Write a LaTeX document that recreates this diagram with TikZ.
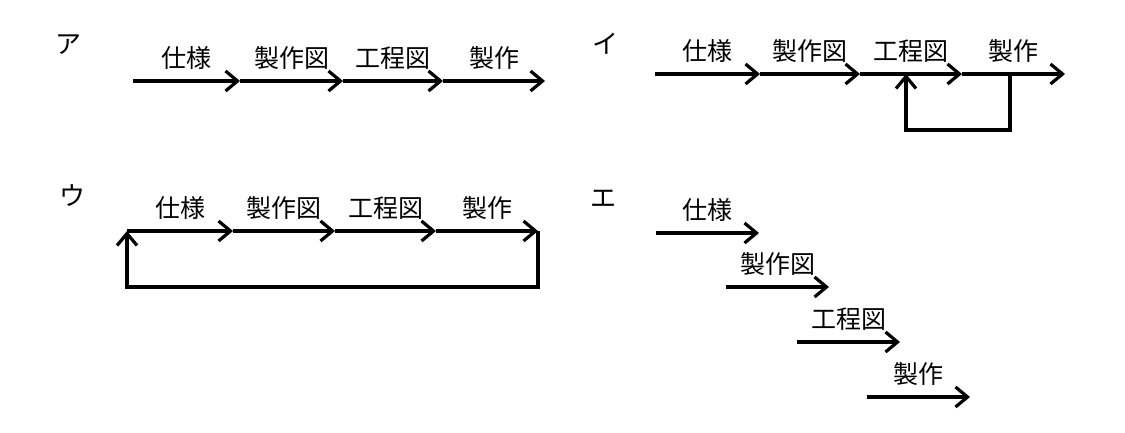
\documentclass[tikz,border=0pt]{standalone}
\usepackage{fontspec}
\setmainfont{Noto Sans CJK JP}
\usetikzlibrary{arrows.meta}

\begin{document}
\begin{tikzpicture}[x=0.5pt, y=-0.5pt,
    flow/.style={line width=1.6pt, -{Straight Barb[length=6pt, width=10pt, line width=1.6pt]}},
    step lbl/.style={font=\fontsize{12.5}{14}\selectfont, above=5pt, midway, inner sep=0pt},
    panel/.style={font=\fontsize{13}{15}\selectfont, inner sep=0pt}]
  \useasboundingbox (0,0) rectangle (1125,433);

  % ア : straight flow
  \node[panel] (pa) at (68,45) {ア};
  \foreach \n/\x in {0/133, 1/240, 2/343, 3/443, 4/545}
    \coordinate (a\n) at (\x,81);
  \foreach \n/\p/\t in {1/0/仕様, 2/1/製作図, 3/2/工程図, 4/3/製作}
    \draw[flow] (a\p) -- node[step lbl] (la\n) {\t} (a\n);

  % イ : loop back to 工程図
  \node[panel] (pb) at (605,44) {イ};
  \foreach \n/\x in {0/655, 1/760, 2/860, 3/962, 4/1065}
    \coordinate (b\n) at (\x,74);
  \foreach \n/\p/\t in {1/0/仕様, 2/1/製作図, 3/2/工程図, 4/3/製作}
    \draw[flow] (b\p) -- node[step lbl] (lb\n) {\t} (b\n);
  \coordinate (bout) at (1010,74);
  \coordinate (bin) at (906,74);
  \draw[flow] (bout) -- ++(0,56) -| (bin);

  % ウ : loop back to the start
  \node[panel] (pc) at (72,196) {ウ};
  \foreach \n/\x in {0/127, 1/233, 2/335, 3/436, 4/538}
    \coordinate (c\n) at (\x,231);
  \foreach \n/\p/\t in {1/0/仕様, 2/1/製作図, 3/2/工程図, 4/3/製作}
    \draw[flow] (c\p) -- node[step lbl] (lc\n) {\t} (c\n);
  \draw[flow] (c4) -- ++(0,56) -| (c0);

  % エ : staggered steps
  \node[panel] (pd) at (603,199) {エ};
  \foreach \n/\x/\y/\t in {1/656/233/仕様, 2/726/287/製作図, 3/797/342/工程図, 4/867/397/製作}{
    \coordinate (ds\n) at (\x,\y);
    \coordinate (de\n) at (\x+103,\y);
    \draw[flow] (ds\n) -- node[step lbl] (ld\n) {\t} (de\n);
  }
\end{tikzpicture}
\end{document}
